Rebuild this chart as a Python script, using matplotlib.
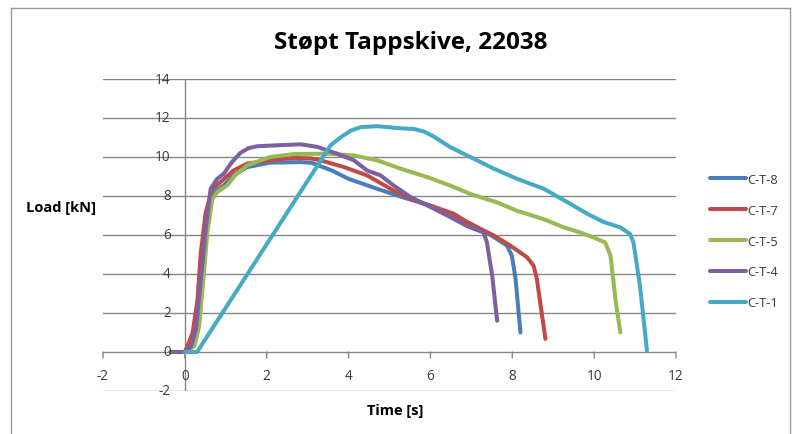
import matplotlib
matplotlib.use("Agg")
import matplotlib.pyplot as plt
from matplotlib.lines import Line2D

plt.rcParams['font.family'] = ['Open Sans', 'DejaVu Sans']

# ---- data ----
series_names = ["C-T-8", "C-T-7", "C-T-5", "C-T-4", "C-T-1"]
series_colors = ["#4A7EBB", "#BE4B48", "#98B954", "#7D60A0", "#46AAC5"]

t_ct8 = [-0.35, 0.0, 0.1, 0.19, 0.35, 0.47, 0.59, 0.71, 0.95, 1.19, 1.52, 2.08, 2.83, 3.1, 3.6, 4.0, 4.7, 5.27, 6.0, 6.5, 7.0, 7.47, 7.87, 7.99, 8.08, 8.2]
y_ct8 = [0, 0, 0.2, 0.64, 2.7, 5.79, 7.51, 8.2, 8.54, 9.06, 9.48, 9.71, 9.74, 9.7, 9.3, 8.88, 8.37, 7.97, 7.5, 7.05, 6.55, 6.0, 5.46, 4.94, 3.75, 1.0]

t_ct7 = [-0.35, 0.0, 0.06, 0.19, 0.31, 0.39, 0.51, 0.67, 0.87, 1.19, 1.52, 2.08, 2.66, 3.07, 3.31, 3.88, 4.45, 5.1, 5.51, 6.08, 6.57, 6.9, 7.55, 7.95, 8.36, 8.52, 8.6, 8.81]
y_ct7 = [0, 0, 0.29, 0.98, 2.7, 5.1, 7.16, 8.37, 8.71, 9.31, 9.66, 9.83, 9.95, 9.93, 9.83, 9.49, 9.06, 8.28, 7.85, 7.45, 7.09, 6.66, 5.97, 5.46, 4.86, 4.43, 3.75, 0.67]

t_ct5 = [-0.35, 0.0, 0.23, 0.35, 0.43, 0.55, 0.67, 0.79, 1.03, 1.23, 1.52, 2.08, 2.66, 3.48, 4.13, 4.7, 5.27, 5.92, 6.49, 6.98, 7.63, 8.12, 8.77, 9.26, 9.66, 9.99, 10.27, 10.4, 10.52, 10.64]
y_ct5 = [0, 0, 0.29, 1.32, 3.21, 6.13, 7.85, 8.2, 8.54, 9.06, 9.57, 10.0, 10.15, 10.17, 10.08, 9.83, 9.40, 8.97, 8.53, 8.1, 7.67, 7.24, 6.81, 6.39, 6.13, 5.87, 5.62, 4.94, 2.72, 1.0]

t_ct4 = [-0.35, 0.0, 0.15, 0.27, 0.39, 0.51, 0.63, 0.79, 0.95, 1.15, 1.35, 1.55, 1.76, 2.24, 2.83, 3.23, 3.72, 4.13, 4.45, 4.78, 5.1, 5.51, 5.92, 6.41, 6.9, 7.3, 7.38, 7.51, 7.63]
y_ct4 = [0, 0, 0.29, 1.15, 3.73, 6.31, 8.37, 8.88, 9.14, 9.74, 10.2, 10.45, 10.55, 10.6, 10.65, 10.52, 10.17, 9.83, 9.31, 9.06, 8.54, 7.95, 7.52, 7.0, 6.45, 6.13, 5.62, 3.9, 1.6]

t_ct1 = [0.0, 0.3, 3.56, 3.8, 4.05, 4.3, 4.7, 5.27, 5.59, 5.85, 6.08, 6.49, 7.06, 7.55, 8.12, 8.77, 9.34, 9.83, 10.24, 10.64, 10.88, 10.96, 11.12, 11.29]
y_ct1 = [0, 0, 10.6, 11.0, 11.35, 11.53, 11.58, 11.47, 11.44, 11.3, 11.05, 10.5, 9.91, 9.4, 8.88, 8.37, 7.69, 7.09, 6.66, 6.39, 6.05, 5.62, 3.4, 0.07]

series_t = [t_ct8, t_ct7, t_ct5, t_ct4, t_ct1]
series_y = [y_ct8, y_ct7, y_ct5, y_ct4, y_ct1]

x_ticks = [-2, 0, 2, 4, 6, 8, 10, 12]
y_ticks = [-2, 0, 2, 4, 6, 8, 10, 12, 14]

title = "Støpt Tappskive, 22038"
xlabel = "Time [s]"
ylabel = "Load [kN]"

# ---- figure ----
W, H = 793, 435
fig = plt.figure(figsize=(W / 100, H / 100), dpi=100)
fig.patch.set_facecolor("white")

def fx(px):
    return px / W

def fy(py):
    return 1 - py / H

ax = fig.add_axes([fx(103), fy(392), fx(676) - fx(103), fy(80) - fy(392)])
ax.set_xlim(-2, 12)
ax.set_ylim(-2, 14)
for s in ax.spines.values():
    s.set_visible(False)
ax.set_xticks([])
ax.set_yticks([])
ax.patch.set_alpha(0)

grid_c = "#868686"
for yv in y_ticks:
    ax.axhline(yv, color=grid_c, lw=1.0, zorder=1)
ax.axvline(0, color=grid_c, lw=1.0, zorder=1)
# x tick marks on the y=0 axis
for xv in x_ticks:
    ax.annotate("", xy=(xv, 0), xytext=(0, -6), textcoords="offset pixels",
                arrowprops=dict(arrowstyle="-", color=grid_c, lw=1.0,
                                shrinkA=0, shrinkB=0))

lines = []
for t, y, c, n in zip(series_t, series_y, series_colors, series_names):
    ln, = ax.plot(t, y, color=c, lw=2.9, solid_joinstyle="round",
                  solid_capstyle="round", label=n, zorder=3)
    lines.append(ln)

tick_fs = 9.8
tick_c = "#3A3A3A"
for yv in y_ticks:
    ax.annotate(str(yv), xy=(0, yv), xytext=(-14, 0), textcoords="offset pixels",
                ha="right", va="center", fontsize=tick_fs, color=tick_c)
for xv in x_ticks:
    ax.annotate(str(xv), xy=(xv, 0), xytext=(0, -24), textcoords="offset pixels",
                ha="center", va="center", fontsize=tick_fs, color=tick_c)

fig.text(fx(411), fy(43), title, ha="center", va="center",
         fontsize=17.5, fontweight="bold", color="#000000")
fig.text(fx(61), fy(208), ylabel, ha="center", va="center",
         fontsize=10.5, fontweight="bold", color="#000000")
fig.text(fx(395), fy(411), xlabel, ha="center", va="center",
         fontsize=10.5, fontweight="bold", color="#000000")

leg = fig.legend(handles=lines, labels=series_names, loc="upper left",
                 bbox_to_anchor=(fx(710), fy(174)), frameon=False,
                 fontsize=9.3, handlelength=2.8, handletextpad=0.12,
                 labelspacing=1.38, borderaxespad=0, borderpad=0)
for txt in leg.get_texts():
    txt.set_color(tick_c)

# chart border
bc = "#9A9A9A"
fig.add_artist(Line2D([fx(11), fx(11)], [0, fy(9)], color=bc, lw=1.0, transform=fig.transFigure))
fig.add_artist(Line2D([fx(11), fx(790)], [fy(9), fy(9)], color=bc, lw=1.0, transform=fig.transFigure))
fig.add_artist(Line2D([fx(790), fx(790)], [0, fy(9)], color=bc, lw=1.0, transform=fig.transFigure))

fig.savefig("out.png", dpi=100)
